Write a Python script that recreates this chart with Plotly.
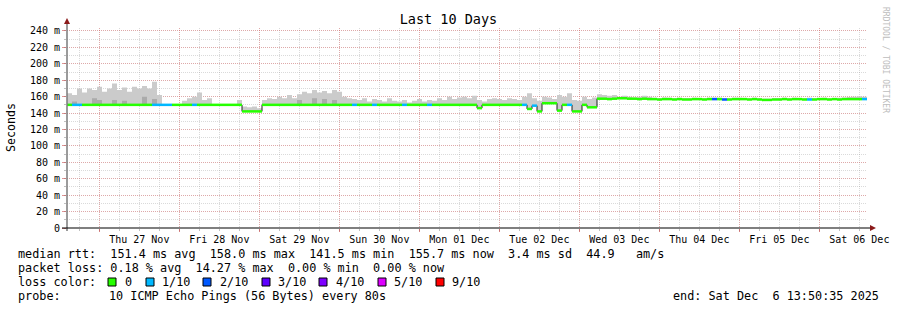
import plotly.graph_objects as go
import pandas as pd

# ---------------- data ----------------
T0 = pd.Timestamp("2025-11-26 14:18:36")   # left edge of the graph
T1 = pd.Timestamp("2025-12-06 14:18:36")   # right edge of the graph
STEP_MIN = 90                               # one sample every 90 minutes

median_ms = [
    150, 150, 150, 150, 150, 150, 150, 150, 150, 150,
    150, 150, 150, 150, 150, 150, 150, 150, 150, 150,
    150, 150, 150, 150, 150, 150, 150, 150, 150, 150,
    150, 150, 150, 150, 150, 142, 142, 142, 142, 150,
    150, 150, 150, 150, 150, 150, 150, 150, 150, 150,
    150, 150, 150, 150, 150, 150, 150, 150, 150, 150,
    150, 150, 150, 150, 150, 150, 150, 150, 150, 150,
    150, 150, 150, 150, 150, 150, 150, 150, 150, 150,
    150, 150, 146, 150, 150, 150, 150, 150, 150, 150,
    150, 150, 145, 149, 142, 152, 152, 152, 143, 150,
    150, 142, 142, 150, 147, 147, 157.5, 157.5, 157, 157.5,
    158, 158, 157.5, 157.5, 157, 157.5, 157, 157, 156.5, 157,
    157, 156.5, 157, 156.5, 156.5, 157, 157, 156.5, 157, 157,
    157, 156.5, 156.5, 157, 157, 157, 156.5, 157, 156.5, 156,
    156, 156.5, 156.5, 157, 156.5, 157, 157, 156.5, 156.5, 156.5,
    157, 157, 156.5, 157, 156.5, 157, 157, 157, 157, 157,
]

smoke_hi_ms = [
    164, 162, 170, 165, 170, 168, 172, 166, 170, 176,
    168, 171, 166, 172, 170, 173, 170, 178, 162, 151,
    151, 151, 151, 155, 158, 160, 165, 156, 158, 151,
    151, 151, 151, 151, 156, 148, 147, 148, 146, 156,
    158, 157, 160, 158, 162, 158, 163, 166, 164, 168,
    165, 167, 164, 168, 166, 160, 158, 157, 156, 158,
    154, 157, 156, 154, 158, 155, 154, 156, 153, 155,
    157, 154, 156, 155, 158, 156, 160, 157, 159, 160,
    158, 161, 156, 154, 157, 158, 157, 156, 158, 157,
    156, 160, 164, 158, 155, 160, 159, 157, 162, 160,
    164, 156, 155, 160, 157, 159, 163, 162, 161, 162,
    160, 161, 160, 159, 160, 161, 160, 158.5, 158, 159,
    158.5, 158, 158.5, 158, 158, 158.5, 158, 158, 158.5, 158.5,
    158.5, 158, 158, 158.5, 158.5, 158, 158, 158.5, 158, 157.5,
    157.5, 158, 158, 158.5, 158, 158.5, 158, 158, 158.5, 158,
    158, 158.5, 158, 158, 158.5, 159, 159.5, 160, 160.5, 160,
]

# darker smoke patches (sample index, top of the dense band in ms)
dark_idx = [1, 5, 6, 9, 11, 15, 17, 46, 49, 51, 53]
dark_hi_ms = [154, 158, 156, 156, 155, 160, 157, 156, 158, 157, 156]

# samples with packet loss (sample index, lost pings out of 10)
loss_idx = [1, 2, 17, 18, 19, 20, 25, 57, 61, 67, 72, 91, 93, 100, 129, 131, 148, 159]
loss_count = [1, 1, 1, 1, 1, 1, 1, 1, 1, 1, 1, 1, 1, 1, 2, 2, 1, 1]

loss_colors = ["#26ff00", "#00b8ff", "#0059ff", "#5e00ff", "#7e00ff", "#dd00ff", "#ff0000"]
loss_labels = ["0", "1/10", "2/10", "3/10", "4/10", "5/10", "9/10"]

day_labels = ["Thu 27 Nov", "Fri 28 Nov", "Sat 29 Nov", "Sun 30 Nov", "Mon 01 Dec",
              "Tue 02 Dec", "Wed 03 Dec", "Thu 04 Dec", "Fri 05 Dec", "Sat 06 Dec"]
day_dates = ["2025-11-27", "2025-11-28", "2025-11-29", "2025-11-30", "2025-12-01",
             "2025-12-02", "2025-12-03", "2025-12-04", "2025-12-05", "2025-12-06"]

y_tick_vals = [0, 20, 40, 60, 80, 100, 120, 140, 160, 180, 200, 220, 240]
y_tick_text = ["0", "20 m", "40 m", "60 m", "80 m", "100 m", "120 m", "140 m",
               "160 m", "180 m", "200 m", "220 m", "240 m"]

legend_rtt = "median rtt:  151.4 ms avg  158.0 ms max  141.5 ms min  155.7 ms now  3.4 ms sd  44.9   am/s"
legend_loss = "packet loss: 0.18 % avg  14.27 % max  0.00 % min  0.00 % now"
probe_text = "10 ICMP Echo Pings (56 Bytes) every 80s"
end_text = "end: Sat Dec  6 13:50:35 2025"

# ---------------- geometry helpers ----------------
W, H = 897, 310
PL, PR, PT, PB = 67, 30, 28, 82
PW, PH = W - PL - PR, H - PT - PB


def px(x):
    return (x - PL) / PW


def py(y):
    return (H - PB - y) / PH


def keep_spaces(s):
    return s.replace(" ", "\u00a0")


MONO = "DejaVu Sans Mono"
LEG_SIZE = 11.8
N = len(median_ms)
edges = [T0 + pd.Timedelta(minutes=STEP_MIN * i) for i in range(N + 1)]

fig = go.Figure()

# smoke (median -> max)
fig.add_trace(go.Scatter(x=edges, y=median_ms + [median_ms[-1]], mode="lines",
                         line=dict(width=0, shape="hv"), hoverinfo="skip", showlegend=False))
fig.add_trace(go.Scatter(x=edges, y=smoke_hi_ms + [smoke_hi_ms[-1]], mode="lines",
                         line=dict(width=0, shape="hv"), fill="tonexty",
                         fillcolor="#cbcbcb", hoverinfo="skip", showlegend=False))

# darker dense smoke patches
dx, dy = [], []
for i, hi in zip(dark_idx, dark_hi_ms):
    m = median_ms[i]
    dx += [edges[i], edges[i + 1], edges[i + 1], edges[i], edges[i], None]
    dy += [m, m, hi, hi, m, None]
fig.add_trace(go.Scatter(x=dx, y=dy, mode="lines", fill="toself", fillcolor="#ababab",
                         line=dict(width=0), hoverinfo="skip", showlegend=False))

# thin dark median staircase (shows the vertical steps) - drawn on the overlay axis
fig.add_trace(go.Scatter(x=edges, y=median_ms + [median_ms[-1]], mode="lines",
                         line=dict(width=1, color="#202020", shape="hv"),
                         xaxis="x2", hoverinfo="skip", showlegend=False))


def loss_bin(c):
    if c <= 4:
        return c
    if c <= 8:
        return 5
    return 6


loss_at = dict(zip(loss_idx, loss_count))
seg = {k: ([], []) for k in range(len(loss_colors))}
for i in range(N):
    b = loss_bin(loss_at.get(i, 0))
    seg[b][0].extend([edges[i], edges[i + 1], None])
    seg[b][1].extend([median_ms[i], median_ms[i], None])
for b in range(len(loss_colors)):
    if seg[b][0]:
        fig.add_trace(go.Scatter(x=seg[b][0], y=seg[b][1], mode="lines",
                                 line=dict(width=2.5, color=loss_colors[b]),
                                 xaxis="x2", hoverinfo="skip", showlegend=False))

# ---------------- layout ----------------
RED_GRID = "rgba(230,90,90,0.38)"
GRAY_GRID = "rgba(140,140,140,0.32)"

fig.update_layout(
    width=W, height=H,
    margin=dict(l=PL, r=PR, t=PT, b=PB, autoexpand=False),
    paper_bgcolor="white", plot_bgcolor="white",
    showlegend=False,
    title=dict(text="Last 10 Days", x=0.5, xanchor="center", y=1 - 19 / H, yanchor="middle",
               font=dict(family=MONO, size=13.5, color="#000")),
    xaxis=dict(type="date", range=[T0, T1], showline=False, zeroline=False,
               tickvals=[pd.Timestamp(d) for d in day_dates], showticklabels=False,
               showgrid=True, gridcolor=RED_GRID, griddash="1px,1px", gridwidth=1,
               ticks="outside", ticklen=3, tickcolor="rgba(200,80,80,0.7)",
               minor=dict(dtick=6 * 3600 * 1000, tick0="2025-11-27 00:00:00",
                          showgrid=True, gridcolor=GRAY_GRID, griddash="1px,1px",
                          ticks="outside", ticklen=2, tickcolor="rgba(150,150,150,0.6)")),
    xaxis2=dict(type="date", range=[T0, T1], overlaying="x", matches="x", side="bottom",
                anchor="y", showline=False, zeroline=False, showgrid=False,
                tickvals=[pd.Timestamp(d) + pd.Timedelta(hours=12) for d in day_dates],
                ticktext=day_labels, ticks="", ticklabelstandoff=4,
                tickfont=dict(family=MONO, size=10, color="#000")),
    yaxis=dict(range=[0, 243.6], showline=False, zeroline=False,
               tickvals=y_tick_vals, ticktext=y_tick_text,
               tickfont=dict(family=MONO, size=10, color="#000"),
               showgrid=True, gridcolor=RED_GRID, griddash="1px,1px",
               ticks="outside", ticklen=4, tickcolor="rgba(200,80,80,0.6)",
               minor=dict(dtick=10, showgrid=True, gridcolor=GRAY_GRID, griddash="1px,1px",
                          ticks="outside", ticklen=2, tickcolor="rgba(150,150,150,0.6)")),
)

shapes = []
# axis lines
shapes.append(dict(type="line", xref="paper", yref="paper", x0=px(67), x1=px(67),
                   y0=py(231), y1=py(24), line=dict(color="#7a7a7a", width=1.5)))
shapes.append(dict(type="line", xref="paper", yref="paper", x0=px(62), x1=px(870),
                   y0=py(228), y1=py(228), line=dict(color="#000", width=1.2)))
# arrow heads
shapes.append(dict(type="path", xref="paper", yref="paper",
                   path=f"M {px(67)} {py(18)} L {px(64)} {py(24)} L {px(70)} {py(24)} Z",
                   fillcolor="#8b1a1a", line=dict(width=0)))
shapes.append(dict(type="path", xref="paper", yref="paper",
                   path=f"M {px(876)} {py(228)} L {px(870)} {py(225)} L {px(870)} {py(231)} Z",
                   fillcolor="#8b1a1a", line=dict(width=0)))

annotations = []


def txt(s, x, y, size=LEG_SIZE, anchor="left", color="#000"):
    annotations.append(dict(text=keep_spaces(s), x=px(x), y=py(y), xref="paper", yref="paper",
                            xanchor=anchor, yanchor="middle", showarrow=False,
                            font=dict(family=MONO, size=size, color=color)))


# legend rows
txt(legend_rtt, 16, 254)
txt(legend_loss, 16, 268)
txt("loss color:", 16, 282)
sq_x = [108, 146, 203, 262, 319, 378, 436]
lab_x = [123, 160, 218, 276, 334, 392, 450]
for c, lab, sx, lx in zip(loss_colors, loss_labels, sq_x, lab_x):
    shapes.append(dict(type="rect", xref="paper", yref="paper",
                       x0=px(sx), x1=px(sx + 8), y0=py(286), y1=py(278),
                       fillcolor=c, line=dict(color="#000", width=1)))
    txt(lab, lx, 282)
txt("probe:", 16, 296)
txt(probe_text, 107, 296)
txt(end_text, 881, 296, anchor="right")

# y axis unit label
annotations.append(dict(text="Seconds", x=px(11), y=py(127), xref="paper", yref="paper",
                        xanchor="center", yanchor="middle", textangle=-90, showarrow=False,
                        font=dict(family=MONO, size=11.6, color="#000")))
# watermark
annotations.append(dict(text="RRDTOOL / TOBI OETIKER", x=px(886), y=py(60), xref="paper",
                        yref="paper", xanchor="center", yanchor="middle", textangle=90,
                        showarrow=False, font=dict(family=MONO, size=8, color="#bdbdbd")))

fig.update_layout(shapes=shapes, annotations=annotations)
fig.write_html("out.html")
